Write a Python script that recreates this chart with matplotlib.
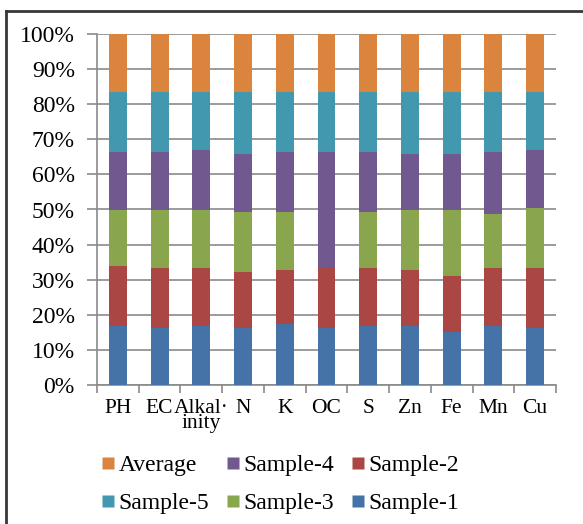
import numpy as np
import matplotlib.pyplot as plt
from matplotlib.lines import Line2D

# parâmetros analisados
params = ['PH', 'EC', 'Alkal·\ninity', 'N', 'K', 'OC', 'S', 'Zn', 'Fe', 'Mn', 'Cu']

# participação (%) de cada amostra em cada parâmetro
sample_1 = [16.8, 16.1, 16.8, 16.1, 17.3, 16.1, 16.8, 16.8, 15.1, 16.8, 16.1]
sample_2 = [17.0, 17.2, 16.5, 16.0, 15.4, 17.2, 16.5, 15.9, 15.9, 16.5, 17.2]
sample_3 = [16.0, 16.5, 16.5, 17.1, 16.5, 0.0, 15.9, 17.1, 18.8, 15.3, 17.0]
sample_4 = [16.5, 16.5, 17.1, 16.6, 17.1, 33.0, 17.1, 16.0, 16.0, 17.7, 16.6]
sample_5 = [17.2, 17.2, 16.6, 17.7, 17.2, 17.2, 17.2, 17.7, 17.7, 17.2, 16.6]
average = [16.5, 16.5, 16.5, 16.5, 16.5, 16.5, 16.5, 16.5, 16.5, 16.5, 16.5]

series = [
    ('Sample-1', sample_1, '#4572A7'),
    ('Sample-2', sample_2, '#AA4643'),
    ('Sample-3', sample_3, '#89A54E'),
    ('Sample-4', sample_4, '#71588F'),
    ('Sample-5', sample_5, '#4198AF'),
    ('Average', average, '#DB843D'),
]

plt.rcParams['font.family'] = ['Liberation Serif', 'DejaVu Serif']
grid_col = '#8a8a8a'

fig = plt.figure(figsize=(5.83, 5.24), dpi=100)
ax = fig.add_axes([97 / 583, 1 - 385 / 524, (556 - 97) / 583, (385 - 34) / 524])

data = np.array([s[1] for s in series])
data = data / data.sum(axis=0) * 100
x = np.arange(len(params))
bottom = np.zeros(len(params))
for (name, _, color), vals in zip(series, data):
    ax.bar(x, vals, 0.43, bottom=bottom, color=color, label=name, zorder=3)
    bottom += vals

ax.set_xlim(-0.5, len(params) - 0.5)
ax.set_ylim(0, 100)
ax.set_yticks(np.arange(0, 101, 10))
ax.set_yticklabels([f'{v}%' for v in range(0, 101, 10)], fontsize=17)
ax.yaxis.grid(True, color=grid_col, linewidth=1.2, zorder=0)

ax.set_xticks(x)
ax.set_xticklabels(params, fontsize=15.5, linespacing=0.75)
ax.set_xticks(np.arange(-0.5, len(params), 1), minor=True)
ax.tick_params(axis='x', which='major', length=0, pad=10)
ax.tick_params(axis='x', which='minor', length=6, width=1.2, color=grid_col)
ax.tick_params(axis='y', length=7, width=1.2, color=grid_col, pad=9)

for side in ['top', 'right']:
    ax.spines[side].set_visible(False)
for side in ['left', 'bottom']:
    ax.spines[side].set_color(grid_col)
    ax.spines[side].set_linewidth(1.2)

# legenda em duas linhas, ordem inversa do empilhamento
order = ['Average', 'Sample-5', 'Sample-4', 'Sample-3', 'Sample-2', 'Sample-1']
colors = {s[0]: s[2] for s in series}
handles = [Line2D([], [], marker='s', linestyle='none', markersize=8,
                  markerfacecolor=colors[n], markeredgecolor='none') for n in order]
fig.legend(handles, order, ncol=3, loc='upper left', bbox_to_anchor=(83 / 583, 1 - 436 / 524),
           frameon=False, fontsize=17, handlelength=0.55, handletextpad=0.15,
           columnspacing=0.75, labelspacing=0.68, borderpad=0.3)

# moldura externa
fig.add_artist(Line2D([6 / 583, 6 / 583], [0, 1 - 11 / 524], transform=fig.transFigure,
                      color='#383838', linewidth=2))
fig.add_artist(Line2D([6 / 583, 1], [1 - 11 / 524, 1 - 11 / 524], transform=fig.transFigure,
                      color='#383838', linewidth=2))

fig.savefig('out.png', dpi=100)
